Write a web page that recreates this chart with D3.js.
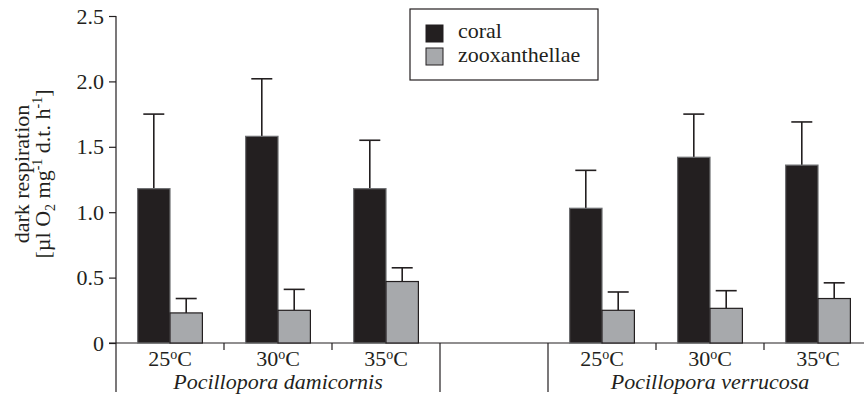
<!DOCTYPE html>
<html>
<head>
<meta charset="utf-8">
<script src="https://cdn.jsdelivr.net/npm/d3@7"></script>
<style>
	body { margin: 0; background: #fff; }
	text { font-family: "Liberation Serif", "Times New Roman", serif; fill: #231f20; }
</style>
</head>
<body>
<div class="canvas"></div>
<script>
// data
const temps = ['25', '30', '35'];
const species = ['Pocillopora damicornis', 'Pocillopora verrucosa'];
const series = ['coral', 'zooxanthellae'];

const damCoral = [1.18, 1.58, 1.18];
const damCoralErr = [0.57, 0.44, 0.37];
const damZoox = [0.23, 0.25, 0.47];
const damZooxErr = [0.11, 0.16, 0.105];

const verCoral = [1.03, 1.42, 1.36];
const verCoralErr = [0.29, 0.33, 0.33];
const verZoox = [0.25, 0.265, 0.34];
const verZooxErr = [0.14, 0.135, 0.12];

const yTicks = [0, 0.5, 1.0, 1.5, 2.0, 2.5];

const colours = {coral: '#231f20', zooxanthellae: '#a7a9ac'};
const ink = '#231f20';
const fs = 22;

// slots: 3 temps, an empty gap, 3 temps
const slots = ['d25', 'd30', 'd35', 'gap', 'v25', 'v30', 'v35'];

const rows = [];
temps.forEach((t, i) => {
	rows.push({slot: 'd' + t, temp: t, series: 'coral', value: damCoral[i], err: damCoralErr[i]});
	rows.push({slot: 'd' + t, temp: t, series: 'zooxanthellae', value: damZoox[i], err: damZooxErr[i]});
	rows.push({slot: 'v' + t, temp: t, series: 'coral', value: verCoral[i], err: verCoralErr[i]});
	rows.push({slot: 'v' + t, temp: t, series: 'zooxanthellae', value: verZoox[i], err: verZooxErr[i]});
});

const dims = {width: 864, height: 396};

const svg = d3.select('.canvas')
	.append('svg')
	.attr('width', dims.width)
	.attr('height', dims.height);

const x0 = d3.scaleBand()
	.domain(slots)
	.range([116, 872]);

const x1 = d3.scaleBand()
	.domain(series)
	.range([x0.bandwidth() * 0.2, x0.bandwidth() * 0.8]);

const y = d3.scaleLinear()
	.domain([0, 2.5])
	.range([343, 16]);

// y axis
const yAxis = d3.axisLeft(y)
	.tickValues(yTicks)
	.tickSize(7)
	.tickPadding(5)
	.tickFormat(d => d === 0 ? '0' : d3.format('.1f')(d));

const yG = svg.append('g')
	.attr('transform', 'translate(116, 0)')
	.call(yAxis);

yG.select('.domain').remove();
yG.selectAll('line').attr('stroke', ink).attr('stroke-width', 1.2);
yG.selectAll('text')
	.attr('font-size', fs)
	.attr('fill', ink);

// axis lines
svg.append('line')
	.attr('x1', 116).attr('x2', 116)
	.attr('y1', y(2.5)).attr('y2', 392)
	.attr('stroke', ink).attr('stroke-width', 1.2);

svg.append('line')
	.attr('x1', 109).attr('x2', dims.width)
	.attr('y1', y(0)).attr('y2', y(0))
	.attr('stroke', ink).attr('stroke-width', 1.2);

// small ticks between temperature slots, long separators between species
slots.forEach((s, i) => {
	if (i === 0) return;
	const xs = x0(s);
	const long = s === 'gap' || s === 'v25';
	svg.append('line')
		.attr('x1', xs).attr('x2', xs)
		.attr('y1', y(0)).attr('y2', long ? 392 : y(0) + 7)
		.attr('stroke', ink).attr('stroke-width', 1.2);
});

// bars
const groups = svg.selectAll('.bar')
	.data(rows)
	.enter()
	.append('g')
		.attr('class', 'bar')
		.attr('transform', d => `translate(${x0(d.slot) + x1(d.series)}, 0)`);

groups.append('line')
	.attr('x1', x1.bandwidth() / 2).attr('x2', x1.bandwidth() / 2)
	.attr('y1', d => y(d.value)).attr('y2', d => y(d.value + d.err))
	.attr('stroke', ink).attr('stroke-width', 1.6);

groups.append('line')
	.attr('x1', x1.bandwidth() / 2 - 10.5).attr('x2', x1.bandwidth() / 2 + 10.5)
	.attr('y1', d => y(d.value + d.err)).attr('y2', d => y(d.value + d.err))
	.attr('stroke', ink).attr('stroke-width', 1.6);

groups.append('rect')
	.attr('x', 0)
	.attr('y', d => y(d.value))
	.attr('width', x1.bandwidth())
	.attr('height', d => y(0) - y(d.value))
	.attr('fill', d => colours[d.series])
	.attr('stroke', d => d.series === 'coral' ? '#6d6e71' : ink)
	.attr('stroke-width', 1.2);

// temperature labels
const tempLabels = svg.selectAll('.temp')
	.data(slots.filter(s => s !== 'gap'))
	.enter()
	.append('text')
		.attr('class', 'temp')
		.attr('x', d => x0(d) + x0.bandwidth() / 2)
		.attr('y', 366)
		.attr('text-anchor', 'middle')
		.attr('font-size', fs);

tempLabels.append('tspan').text(d => d.slice(1));
tempLabels.append('tspan').attr('font-size', 14).attr('dy', -7).text('o');
tempLabels.append('tspan').attr('dy', 7).text('C');

// species labels
species.forEach((sp, i) => {
	const first = x0(i === 0 ? 'd25' : 'v25');
	svg.append('text')
		.attr('x', first + x0.bandwidth() * 1.5)
		.attr('y', 389)
		.attr('text-anchor', 'middle')
		.attr('font-size', fs)
		.attr('font-style', 'italic')
		.text(sp);
});

// y label
const yLab = svg.append('text')
	.attr('transform', 'translate(29, 174) rotate(-90)')
	.attr('text-anchor', 'middle')
	.attr('font-size', fs);

yLab.append('tspan').attr('x', 0).attr('y', 0).text('dark respiration');

const l2 = yLab.append('tspan').attr('x', 0).attr('y', 21);
l2.append('tspan').text('[\u00b5l O');
l2.append('tspan').attr('font-size', 14).attr('dy', 5).text('2');
l2.append('tspan').attr('dy', -5).text(' mg');
l2.append('tspan').attr('font-size', 14).attr('dy', -8).text('-1');
l2.append('tspan').attr('dy', 8).text(' d.t. h');
l2.append('tspan').attr('font-size', 14).attr('dy', -8).text('-1');
l2.append('tspan').attr('dy', 8).text(']');

// legend
const legend = svg.append('g').attr('transform', 'translate(410, 9)');

legend.append('rect')
	.attr('width', 188).attr('height', 71)
	.attr('fill', 'none')
	.attr('stroke', ink).attr('stroke-width', 1.2);

series.forEach((s, i) => {
	legend.append('rect')
		.attr('x', 16).attr('y', 16 + i * 23)
		.attr('width', 17).attr('height', 17)
		.attr('fill', colours[s])
		.attr('stroke', ink).attr('stroke-width', 1);
	legend.append('text')
		.attr('x', 48).attr('y', 29 + i * 24)
		.attr('font-size', fs)
		.text(s);
});
</script>
</body>
</html>
